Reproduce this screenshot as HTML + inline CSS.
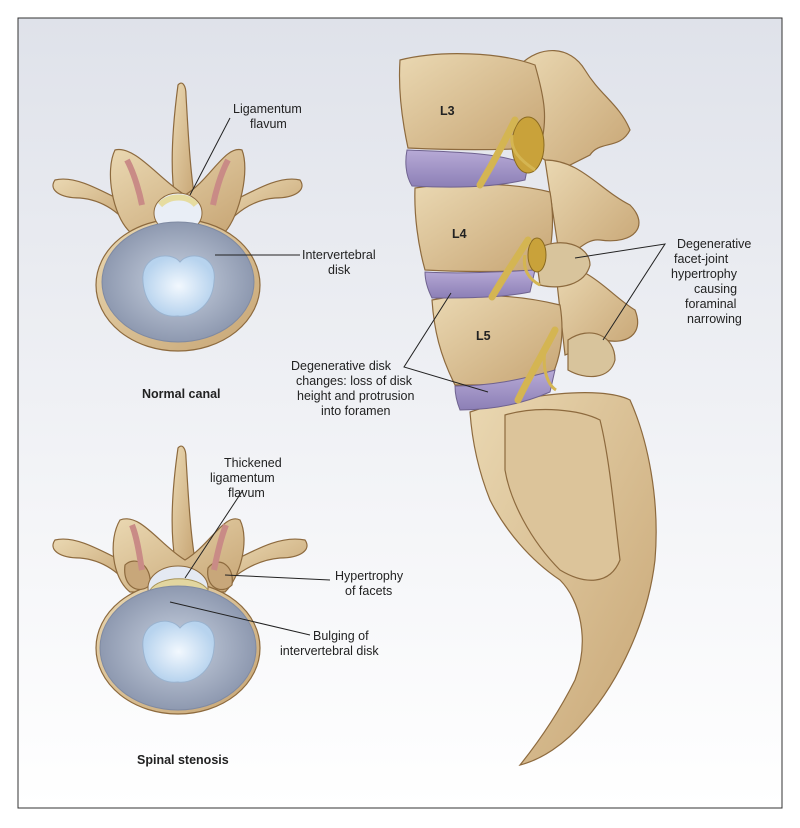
<!DOCTYPE html>
<html><head><meta charset="utf-8"><style>
html,body{margin:0;padding:0;background:#fff}
svg{display:block}
text{font-family:"Liberation Sans",sans-serif;fill:#222;font-size:12.5px}
</style></head><body>
<svg width="800" height="828" viewBox="0 0 800 828" xmlns="http://www.w3.org/2000/svg">
<defs>
<linearGradient id="bg" x1="0" y1="0" x2="0" y2="1">
<stop offset="0" stop-color="#dfe2ea"/><stop offset="0.6" stop-color="#f3f4f7"/><stop offset="1" stop-color="#ffffff"/>
</linearGradient>
<radialGradient id="disk" cx="0.5" cy="0.5" r="0.5">
<stop offset="0" stop-color="#c9d2e0"/><stop offset="1" stop-color="#8e99b0"/>
</radialGradient>
<radialGradient id="nuc" cx="0.5" cy="0.5" r="0.5">
<stop offset="0" stop-color="#f2f8fe"/><stop offset="1" stop-color="#b7d3ee"/>
</radialGradient>
<linearGradient id="bone" x1="0" y1="0" x2="1" y2="1">
<stop offset="0" stop-color="#ead8b2"/><stop offset="1" stop-color="#c7a574"/>
</linearGradient>
<linearGradient id="pd" x1="0" y1="0" x2="0" y2="1">
<stop offset="0" stop-color="#b7aad6"/><stop offset="1" stop-color="#8c7fb6"/>
</linearGradient>
</defs>
<rect x="0" y="0" width="800" height="828" fill="#fff"/>
<rect x="18" y="18" width="764" height="790" fill="url(#bg)" stroke="#333" stroke-width="1"/>

<!-- Top vertebra -->
<g stroke="#8d6a3e" stroke-width="1.2" fill="url(#bone)">
<path d="M175,200 C170,170 172,130 178,85 C182,80 186,85 186,95 C188,130 190,170 195,200 Z"/>
<path d="M130,205 C100,190 75,175 55,180 C48,190 60,198 80,198 C105,200 120,215 130,225 Z"/>
<path d="M225,205 C255,190 280,175 300,180 C307,190 295,198 275,198 C250,200 235,215 225,225 Z"/>
<path d="M115,150 C135,145 160,180 185,195 C210,180 225,145 242,150 C250,170 240,215 225,232 L130,232 C112,215 105,170 115,150 Z"/>
<ellipse cx="178" cy="285" rx="82" ry="66"/>
</g>
<path d="M127,160 C135,175 140,195 142,205" stroke="#c98b86" stroke-width="6" fill="none"/>
<path d="M228,160 C220,175 215,195 213,205" stroke="#c98b86" stroke-width="6" fill="none"/>
<ellipse cx="178" cy="213" rx="24" ry="20" fill="#e9eef6" stroke="#8d6a3e"/>
<path d="M160,205 C170,195 188,195 196,205" stroke="#e6dca0" stroke-width="6" fill="none"/>
<ellipse cx="178" cy="282" rx="76" ry="60" fill="url(#disk)" stroke="#7f8aa2"/>
<path d="M143,282 C140,255 170,250 180,262 C190,250 218,255 214,282 C212,308 190,318 178,316 C160,318 145,305 143,282 Z" fill="url(#nuc)" stroke="#9ab3cf"/>

<!-- Bottom vertebra -->
<g stroke="#8d6a3e" stroke-width="1.2" fill="url(#bone)">
<path d="M175,560 C170,530 172,490 178,448 C182,443 186,448 186,458 C188,490 190,530 195,560 Z"/>
<path d="M130,565 C100,550 75,535 55,540 C48,550 60,558 80,558 C105,560 120,575 130,585 Z"/>
<path d="M225,565 C255,550 280,535 305,540 C312,550 300,558 280,558 C255,560 235,575 225,585 Z"/>
<path d="M120,520 C140,512 160,545 185,560 C210,545 225,512 240,520 C250,540 240,578 225,592 L130,592 C112,578 108,540 120,520 Z"/>
<ellipse cx="178" cy="648" rx="82" ry="66"/>
<path d="M125,565 C135,555 152,565 150,585 C140,595 122,588 125,565 Z" fill="#c8a77a"/>
<path d="M208,568 C218,555 235,565 232,585 C222,595 205,588 208,568 Z" fill="#c8a77a"/>
</g>
<ellipse cx="178" cy="588" rx="30" ry="22" fill="#e4e9f2" stroke="#8d6a3e"/>
<path d="M150,590 C160,575 198,575 208,590 L206,602 L152,602 Z" fill="#e2d6a0" stroke="#a89458"/>
<path d="M132,525 C138,540 140,560 142,570" stroke="#c98b86" stroke-width="6" fill="none"/>
<path d="M226,525 C220,540 216,560 214,570" stroke="#c98b86" stroke-width="6" fill="none"/>
<ellipse cx="178" cy="648" rx="78" ry="62" fill="url(#disk)" stroke="#7f8aa2"/>
<path d="M143,648 C140,620 170,615 180,628 C190,615 218,620 214,648 C212,674 190,684 178,682 C160,684 145,671 143,648 Z" fill="url(#nuc)" stroke="#9ab3cf"/>

<!-- Spine right -->
<g stroke="#8d6a3e" stroke-width="1.2" fill="url(#bone)">
<!-- posterior elements -->
<path d="M520,65 C540,45 570,45 585,70 C600,95 620,105 630,130 C620,150 600,140 590,155 L560,170 L530,150 Z"/>
<path d="M545,160 C580,160 600,190 630,205 C650,225 635,245 600,240 C585,238 575,255 560,260 Z"/>
<path d="M555,265 C590,265 610,295 635,310 C645,335 625,345 605,340 C590,338 580,350 565,355 Z"/>
<!-- sacrum -->
<path d="M470,412 C520,395 600,385 630,400 C648,440 660,500 655,560 C648,620 620,680 585,720 C565,745 540,760 520,765 C540,740 560,710 575,680 C590,640 580,600 560,580 C530,560 505,530 490,500 C478,470 472,440 470,412 Z"/>
<path d="M505,415 C540,405 580,410 600,420 C610,460 615,520 620,560 C610,585 585,585 560,570 C530,540 510,500 505,470 Z" fill="#dcc49a"/>
<!-- bodies -->
<path d="M400,60 C440,50 500,52 535,65 C545,100 548,120 540,148 C500,150 450,150 408,148 C402,120 398,90 400,60 Z"/>
<path d="M415,188 C455,182 510,182 550,192 C555,220 552,250 545,270 C500,272 460,272 425,270 C418,245 414,215 415,188 Z"/>
<path d="M432,300 C470,292 520,295 560,305 C565,335 560,360 550,380 C510,385 480,385 455,385 C440,355 434,330 432,300 Z"/>
<!-- lumps/facets -->
<path d="M535,250 C560,235 590,245 590,265 C585,285 560,290 540,285 Z" fill="#d8c49c"/>
<path d="M568,340 C590,325 615,335 615,360 C610,380 585,380 568,370 Z" fill="#d8c49c"/>
</g>
<!-- disks -->
<path d="M407,150 C450,152 500,152 528,165 L525,180 C490,188 450,188 412,186 C405,175 405,160 407,150 Z" fill="url(#pd)" stroke="#6f628f"/>
<path d="M425,272 C460,274 500,272 535,270 L530,292 C500,298 465,298 432,298 C428,290 425,280 425,272 Z" fill="url(#pd)" stroke="#6f628f"/>
<path d="M455,386 C490,386 520,380 555,370 L550,392 C520,405 490,410 460,410 C456,400 455,392 455,386 Z" fill="url(#pd)" stroke="#6f628f"/>
<!-- nerves -->
<g fill="#c9a23a" stroke="#8a6a20" stroke-width="1">
<ellipse cx="528" cy="145" rx="16" ry="28"/>
<ellipse cx="537" cy="255" rx="9" ry="17"/>
</g>
<g stroke="#d4b552" stroke-width="7" fill="none" stroke-linecap="round">
<path d="M515,120 C505,140 495,160 480,185"/>
<path d="M528,240 C515,260 505,275 492,297"/>
<path d="M555,330 C545,350 530,375 518,400"/>
</g>
<g stroke="#d4b552" stroke-width="3" fill="none">
<path d="M512,135 C510,150 520,160 535,170"/>
<path d="M525,255 C522,270 530,280 540,285"/>
<path d="M545,350 C542,370 548,385 556,390"/>
</g>
<text x="440" y="115" font-weight="bold" font-size="12">L3</text>
<text x="452" y="238" font-weight="bold" font-size="12">L4</text>
<text x="476" y="340" font-weight="bold" font-size="12">L5</text>

<!-- leader lines -->
<g stroke="#222" stroke-width="1" fill="none">
<line x1="230" y1="118" x2="190" y2="195"/>
<line x1="300" y1="255" x2="215" y2="255"/>
<line x1="243" y1="490" x2="185" y2="578"/>
<line x1="330" y1="580" x2="225" y2="575"/>
<line x1="310" y1="635" x2="170" y2="602"/>
<polyline points="451,293 404,367 488,392"/>
<polyline points="575,258 665,244 603,340"/>
</g>

<!-- labels -->
<text x="233" y="113">Ligamentum</text>
<text x="250" y="128">flavum</text>
<text x="302" y="259">Intervertebral</text>
<text x="328" y="274">disk</text>
<text x="142" y="398" font-weight="bold">Normal canal</text>
<text x="224" y="467">Thickened</text>
<text x="210" y="482">ligamentum</text>
<text x="228" y="497">flavum</text>
<text x="335" y="580">Hypertrophy</text>
<text x="345" y="595">of facets</text>
<text x="313" y="640">Bulging of</text>
<text x="280" y="655">intervertebral disk</text>
<text x="137" y="764" font-weight="bold">Spinal stenosis</text>
<text x="291" y="370">Degenerative disk</text>
<text x="296" y="385">changes: loss of disk</text>
<text x="297" y="400">height and protrusion</text>
<text x="321" y="415">into foramen</text>
<text x="677" y="248">Degenerative</text>
<text x="674" y="263">facet-joint</text>
<text x="671" y="278">hypertrophy</text>
<text x="694" y="293">causing</text>
<text x="685" y="308">foraminal</text>
<text x="687" y="323">narrowing</text>
</svg>
</body></html>
